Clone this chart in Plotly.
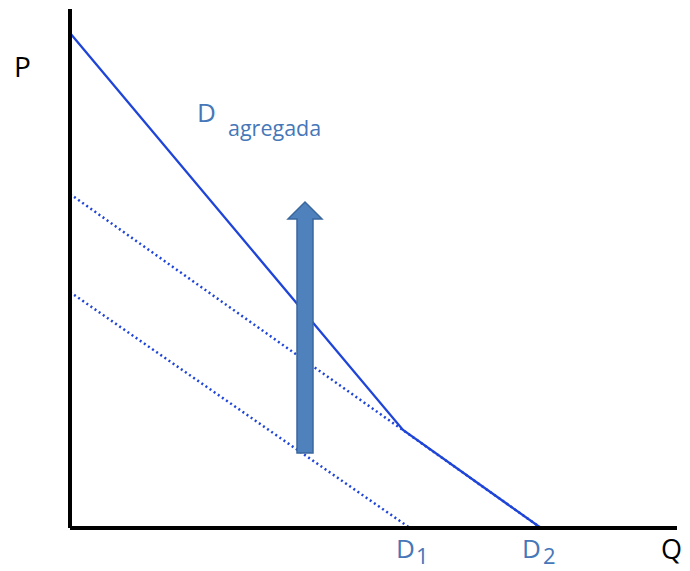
import plotly.graph_objects as go

# Demand curves (Q, P) in arbitrary units
d1_q = [0.0, 34.0]
d1_p = [23.6, 0.0]
d2_q = [0.0, 47.1]
d2_p = [33.4, 0.0]
agg_q = [0.0, 33.3, 47.1]
agg_p = [49.5, 9.8, 0.0]

# Shift arrow (Q position, P from -> to)
arrow_q = 23.5
arrow_p_from = 7.5
arrow_p_to = 32.6

# Axis extents
q_axis_end = 60.7
p_axis_end = 51.9

LINE_BLUE = "#1f45d8"
TEXT_BLUE = "#4677b8"
FONT = "Open Sans"

fig = go.Figure()
fig.add_trace(go.Scatter(x=d1_q, y=d1_p, mode="lines",
                         line=dict(color=LINE_BLUE, width=2.5, dash="2px,3px"),
                         hoverinfo="skip"))
fig.add_trace(go.Scatter(x=d2_q, y=d2_p, mode="lines",
                         line=dict(color=LINE_BLUE, width=2.5, dash="2px,3px"),
                         hoverinfo="skip"))
fig.add_trace(go.Scatter(x=agg_q, y=agg_p, mode="lines",
                         line=dict(color=LINE_BLUE, width=2.3),
                         hoverinfo="skip"))

# Axes as thick black lines
fig.add_shape(type="line", x0=0, y0=0, x1=0, y1=p_axis_end, line=dict(color="black", width=4), layer="above")
fig.add_shape(type="line", x0=0, y0=0, x1=q_axis_end, y1=0, line=dict(color="black", width=4), layer="above")

# Arrow
sw = 0.8   # half shaft width
hw = 1.7   # half head width
head_len = 1.7
hb = arrow_p_to - head_len
path = (f"M {arrow_q - sw},{arrow_p_from} L {arrow_q + sw},{arrow_p_from} "
        f"L {arrow_q + sw},{hb} L {arrow_q + hw},{hb} L {arrow_q},{arrow_p_to} "
        f"L {arrow_q - hw},{hb} L {arrow_q - sw},{hb} Z")
fig.add_shape(type="path", path=path, fillcolor="#4f81bd",
              line=dict(color="#3a679e", width=1.5), layer="above")

ann = [
    dict(text="P", x=-4.8, y=46.2, size=28, color="black"),
    dict(text="Q", x=60.1, y=-2.0, size=27, color="black"),
    dict(text="D", x=13.6, y=41.6, size=26, color=TEXT_BLUE),
    dict(text="agregada", x=20.4, y=40.1, size=21.5, color=TEXT_BLUE),
    dict(text="D", x=33.5, y=-1.95, size=26, color=TEXT_BLUE),
    dict(text="1", x=35.25, y=-2.7, size=22, color=TEXT_BLUE),
    dict(text="D", x=46.1, y=-1.95, size=26, color=TEXT_BLUE),
    dict(text="2", x=47.9, y=-2.7, size=22, color=TEXT_BLUE),
]
for a in ann:
    fig.add_annotation(text=a["text"], x=a["x"], y=a["y"], xref="x", yref="y",
                       showarrow=False, xanchor="center", yanchor="middle",
                       font=dict(family=FONT, size=a["size"], color=a["color"]))

fig.update_layout(
    width=682, height=563,
    margin=dict(l=0, r=0, t=0, b=0),
    paper_bgcolor="white", plot_bgcolor="white",
    showlegend=False,
    xaxis=dict(range=[-6.2, 62.0], visible=False, fixedrange=True),
    yaxis=dict(range=[-4.3, 52.0], visible=False, fixedrange=True),
)

fig.write_html("out.html")
